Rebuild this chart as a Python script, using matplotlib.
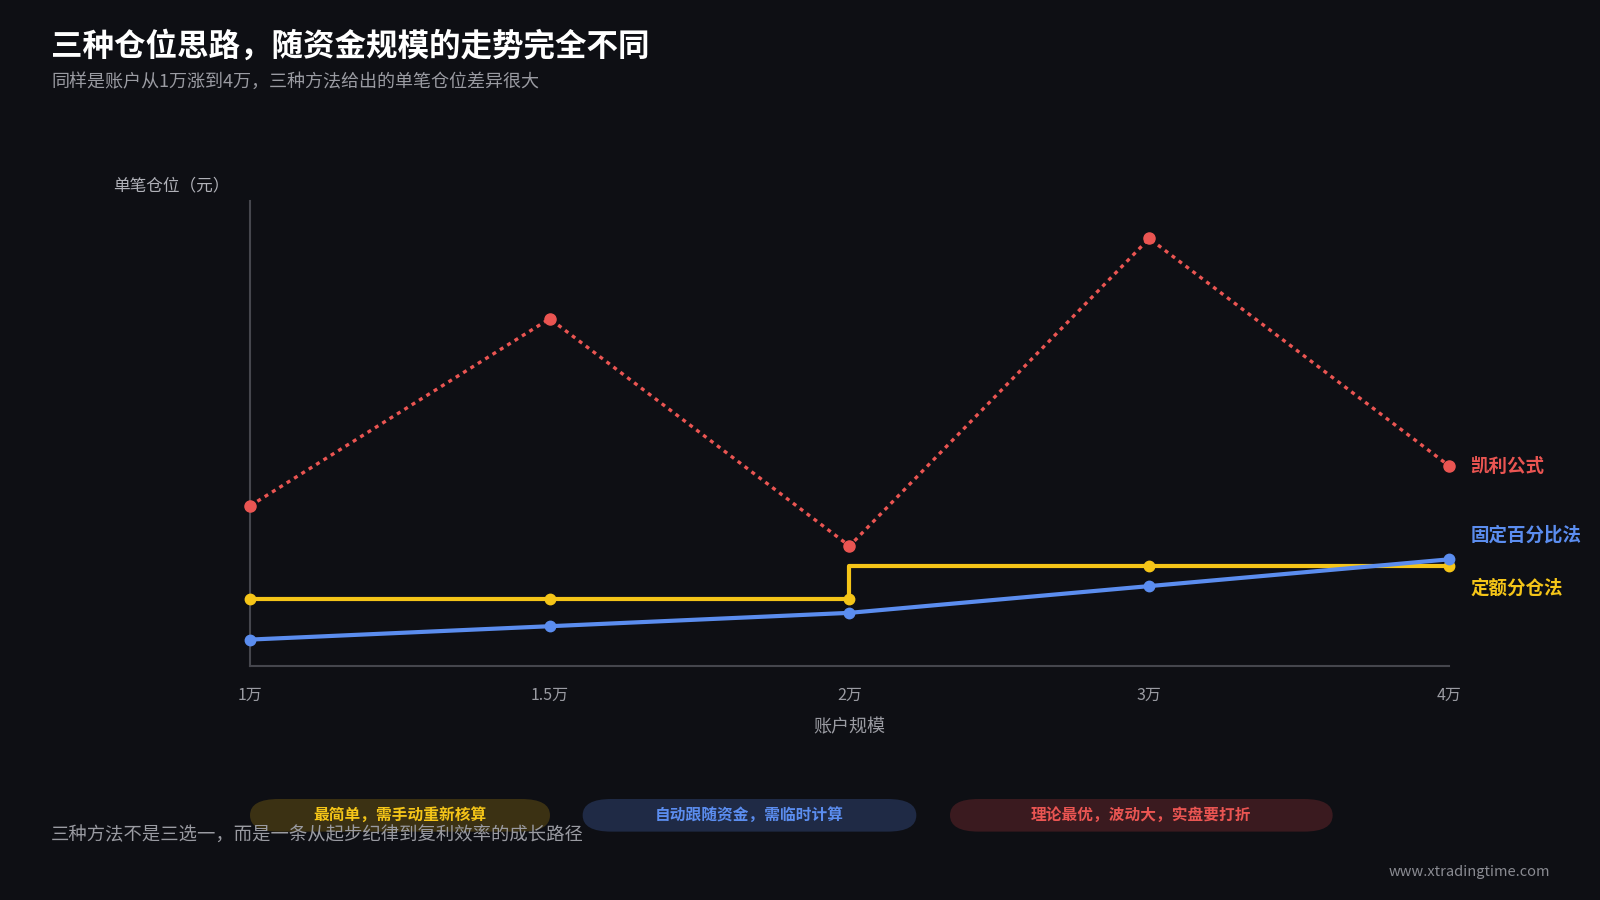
import matplotlib
matplotlib.use("Agg")
import matplotlib.pyplot as plt
from matplotlib.patches import FancyBboxPatch

plt.rcParams['font.family'] = ['Noto Sans CJK SC', 'DejaVu Sans']

# data
x_labels = ['1万', '1.5万', '2万', '3万', '4万']
kelly = [1200, 2600, 900, 3200, 1500]
pct = [200, 300, 400, 600, 800]
fixed = [500, 500, 500, 750, 750]

series_names = ['凯利公式', '固定百分比法', '定额分仓法']
notes = ['最简单，需手动重新核算', '自动跟随资金，需临时计算', '理论最优，波动大，实盘要打折']

BG = '#0e0f14'
RED = '#ea5552'
BLUE = '#5b8def'
YELLOW = '#f5c518'
GRID = '#45464d'
TXT = '#9a9ba2'

W, H = 1568, 882  # reference pixel space


def fx(px):
    return px / W


def fy(py):
    return 1 - py / H


fig = plt.figure(figsize=(16, 9), dpi=100, facecolor=BG)
ax = fig.add_axes([fx(245), fy(653), fx(1420) - fx(245), fy(197) - fy(653)])
ax.set_facecolor(BG)

xs = list(range(len(x_labels)))

ax.plot(xs, kelly, color=RED, lw=2.4, ls=(0, (1.2, 1.4)), marker='o', ms=8,
        clip_on=False, zorder=3)
ax.plot(xs, fixed, color=YELLOW, lw=3, drawstyle='steps-pre', clip_on=False, zorder=4)
ax.plot(xs, fixed, color=YELLOW, lw=0, marker='o', ms=7.5, clip_on=False, zorder=4)
ax.plot(xs, pct, color=BLUE, lw=3, marker='o', ms=7.5, clip_on=False, zorder=5)

ax.set_xlim(0, 4)
ax.set_ylim(0, 3480)
ax.set_xticks(xs)
ax.set_xticklabels(x_labels, color=TXT, fontsize=11.5)
ax.set_yticks([])
ax.tick_params(axis='x', length=0, pad=15)
for s in ['top', 'right']:
    ax.spines[s].set_visible(False)
for s in ['left', 'bottom']:
    ax.spines[s].set_color(GRID)
    ax.spines[s].set_linewidth(1.5)
ax.set_xlabel('账户规模', color=TXT, fontsize=13, labelpad=10)

# end labels
end_y = [457, 524, 576]
for name, col, py in zip(series_names, [RED, BLUE, YELLOW], end_y):
    fig.text(fx(1441), fy(py), name, color=col, fontsize=13.3, fontweight='bold',
             ha='left', va='center')

# titles
fig.text(fx(50), fy(46), '三种仓位思路，随资金规模的走势完全不同', color='white',
         fontsize=22.7, fontweight='bold', ha='left', va='center')
fig.text(fx(50), fy(80), '同样是账户从1万涨到4万，三种方法给出的单笔仓位差异很大',
         color=TXT, fontsize=13, ha='left', va='center')
fig.text(fx(111), fy(182), '单笔仓位（元）', color='#b0b1b8', fontsize=12,
         ha='left', va='center')

# note pills
pills = [(245, 539, '#3b3113', YELLOW), (571, 898, '#1f2a45', BLUE),
         (931, 1306, '#3a1a1f', RED)]
for (x0, x1, fc, tc), note in zip(pills, notes):
    h = 32
    y0 = 783
    box = FancyBboxPatch((fx(x0), fy(y0 + h)), fx(x1 - x0), h / H,
                         boxstyle='round,pad=0,rounding_size=0.018',
                         transform=fig.transFigure, fc=fc, ec='none',
                         mutation_aspect=W / H * 0.5625)
    fig.patches.append(box)
    fig.text(fx((x0 + x1) / 2), fy(y0 + h / 2), note, color=tc, fontsize=11.3,
             fontweight='bold', ha='center', va='center')

fig.text(fx(50), fy(819), '三种方法不是三选一，而是一条从起步纪律到复利效率的成长路径',
         color=TXT, fontsize=13.2, ha='left', va='center')
fig.text(fx(1519), fy(855), 'www.xtradingtime.com', color='#8a8b92', fontsize=10.5,
         ha='right', va='center')

fig.savefig('out.png', dpi=100, facecolor=BG)
